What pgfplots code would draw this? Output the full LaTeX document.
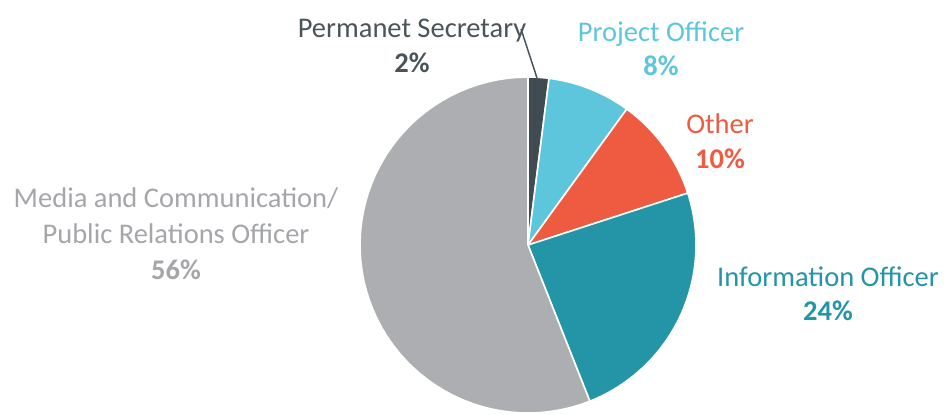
\documentclass[border=0pt]{standalone}
\usepackage{fontspec}
\setmainfont{Carlito}
\usepackage{pgfplots}
\pgfplotsset{compat=1.18}

\definecolor{cSec}{HTML}{414B52}
\definecolor{cProj}{HTML}{5DC6DC}
\definecolor{cOther}{HTML}{EF5B41}
\definecolor{cInfo}{HTML}{2495A6}
\definecolor{cMedia}{HTML}{ADAEB1}
\definecolor{tSec}{HTML}{4A555B}
\definecolor{tMedia}{HTML}{A5A6A9}

% pie centre and radius in picture units (1 unit = 1bp)
\def\cx{528}
\def\cy{169}
\def\rr{168}

% one slice: #1 colour, #2 start %, #3 end % (cumulative, clockwise from top)
\newcommand{\pieslice}[3]{%
  \addplot[fill=#1, draw=white, line width=1.6bp, domain={90-3.6*#2}:{90-3.6*#3},
    samples=60, variable=\t]
    ({\cx+\rr*cos(\t)},{\cy+\rr*sin(\t)}) -- (\cx,\cy) -- cycle;
}

\tikzset{lbl/.style={font=\fontsize{28.5bp}{33bp}\selectfont, inner sep=0pt, anchor=base}}

\begin{document}
\begin{tikzpicture}
\begin{axis}[
  x=1bp, y=1bp,
  xmin=0, xmax=944, ymin=0, ymax=414,
  hide axis, clip=false,
]
\path (0,0) rectangle (944,414);
% shares: 2, 8, 10, 24, 56
\pieslice{cSec}{0}{2}
\pieslice{cProj}{2}{10}
\pieslice{cOther}{10}{20}
\pieslice{cInfo}{20}{44}
\pieslice{cMedia}{44}{100}

\draw[tSec, line width=1.5bp] (521,385) -- (537,336);

\node[lbl, text=tSec] at (412,377) {Permanet Secretary};
\node[lbl, text=tSec] at (412,342) {\bfseries 2\%};
\node[lbl, text=cProj] at (661,373) {Project Officer};
\node[lbl, text=cProj] at (661,339) {\bfseries 8\%};
\node[lbl, text=cOther] at (720,281) {Other};
\node[lbl, text=cOther] at (720,246) {\bfseries 10\%};
\node[lbl, text=cInfo] at (828,128) {Information Officer};
\node[lbl, text=cInfo] at (828,94) {\bfseries 24\%};
\node[lbl, text=tMedia] at (176,207) {Media and Communication/};
\node[lbl, text=tMedia] at (176,171) {Public Relations Officer};
\node[lbl, text=tMedia] at (176,135) {\bfseries 56\%};
\end{axis}
\end{tikzpicture}
\end{document}
